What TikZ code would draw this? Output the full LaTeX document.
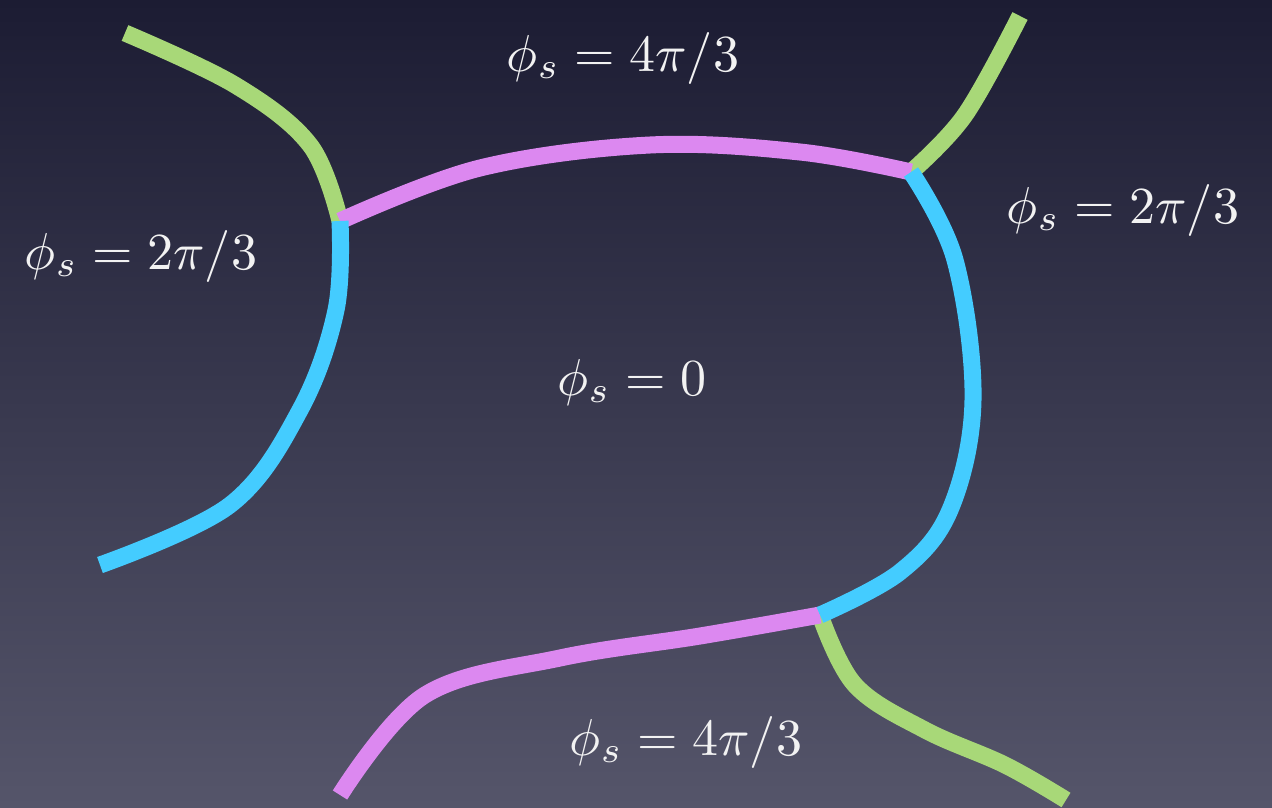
\documentclass[tikz,border=0pt]{standalone}
\definecolor{bgtop}{HTML}{1C1C33}
\definecolor{bgbot}{HTML}{55556A}
\definecolor{chgreen}{HTML}{A8D878}
\definecolor{chpink}{HTML}{DC88F0}
\definecolor{chblue}{HTML}{44CCFF}
\definecolor{txt}{HTML}{F2F2F2}
\tikzset{
  wall/.style={line width=17pt, line cap=butt, line join=round},
  lbl/.style={text=txt, scale=5.2, inner sep=0pt}
}
\begin{document}
\begin{tikzpicture}[x=1pt,y=-1pt]
\shade[top color=bgtop, bottom color=bgbot] (0,0) rectangle (1272,807);
\useasboundingbox (0,0) rectangle (1272,807);
\coordinate (J1) at (340,221);
\coordinate (J2) at (911,172);
\coordinate (J3) at (820,615);
% green walls
\draw[wall, chgreen] plot[smooth, tension=0.6] coordinates {(125,33) (235,85) (310,145) (340,221)};
\draw[wall, chgreen] plot[smooth, tension=0.6] coordinates {(J2) (965,115) (1020,16)};
\draw[wall, chgreen] plot[smooth, tension=0.6] coordinates {(J3) (855,685) (925,730) (1005,765) (1066,800)};
% pink walls
\draw[wall, chpink] plot[smooth, tension=0.6] coordinates {(J1) (480,168) (650,145) (800,152) (J2)};
\draw[wall, chpink] plot[smooth, tension=0.6] coordinates {(J3) (700,636) (560,658) (425,695) (340,795)};
% blue walls
\draw[wall, chblue] plot[smooth, tension=0.6] coordinates {(J1) (336,310) (300,410) (230,505) (100,565)};
\draw[wall, chblue] plot[smooth, tension=0.6] coordinates {(J2) (955,260) (973,400) (950,510) (900,572) (J3)};
% labels
\node[lbl] (top) at (623,58) {$\phi_s = 4\pi/3$};
\node[lbl] (right) at (1123,210) {$\phi_s = 2\pi/3$};
\node[lbl] (left) at (141,256) {$\phi_s = 2\pi/3$};
\node[lbl] (mid) at (632,382) {$\phi_s = 0$};
\node[lbl] (bot) at (686,742) {$\phi_s = 4\pi/3$};
\end{tikzpicture}
\end{document}
